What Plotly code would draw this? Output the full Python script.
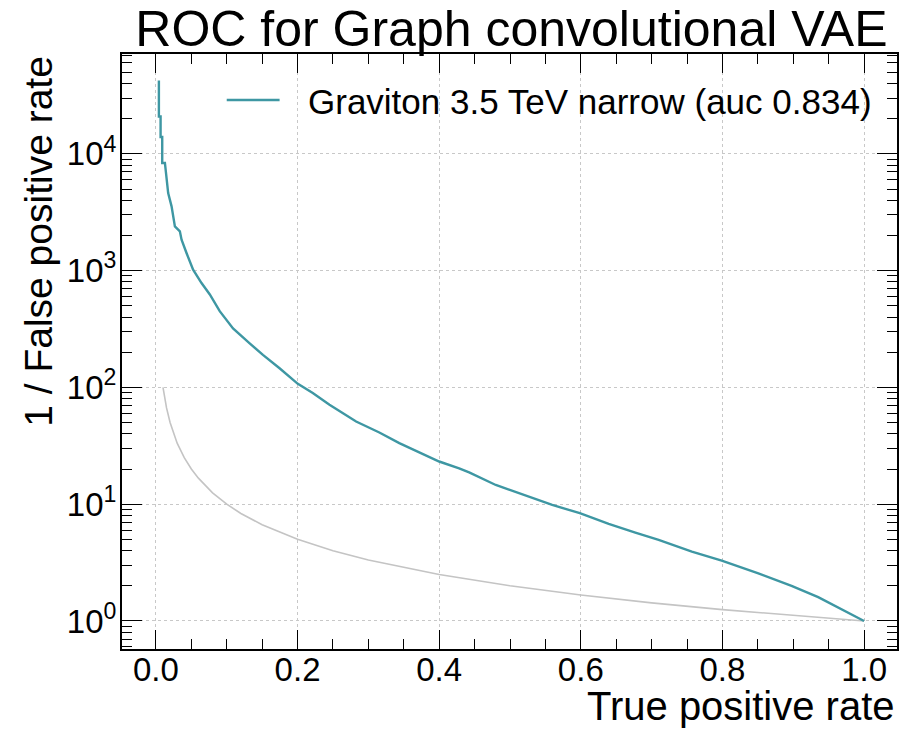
import plotly.graph_objects as go

# ROC curve
tpr = [0.0042, 0.0042, 0.0066, 0.0066, 0.0089, 0.0089, 0.0127, 0.0173, 0.0221, 0.0268,
       0.0338, 0.0362, 0.0432, 0.0525, 0.0644, 0.0761, 0.0901, 0.1089, 0.1324, 0.1511,
       0.1746, 0.2004, 0.2215, 0.2451, 0.2827, 0.3155, 0.3437, 0.3718, 0.4, 0.4282,
       0.4423, 0.4799, 0.5173, 0.5596, 0.5986, 0.6394, 0.677, 0.7099, 0.7568, 0.799,
       0.8507, 0.8976, 0.9352, 0.9634, 0.9822, 1.0]
inv_fpr = [42400, 20900, 20900, 13960, 13960, 8360, 8360, 4620, 3550, 2390,
           2170, 1840, 1415, 1018, 783, 625, 450, 320, 238, 190,
           146, 107.4, 89.4, 71.0, 51.0, 41.1, 33.3, 27.7, 23.2, 20.3,
           18.7, 14.6, 12.2, 9.86, 8.37, 6.78, 5.71, 4.94, 3.93, 3.29,
           2.56, 2.00, 1.60, 1.31, 1.15, 1.0]

# random-guess reference line
rand_tpr = [0.01, 0.012, 0.015, 0.02, 0.025, 0.03, 0.04, 0.05, 0.06, 0.07, 0.08, 0.1,
            0.12, 0.15, 0.2, 0.25, 0.3, 0.4, 0.5, 0.6, 0.7, 0.8, 0.9, 1.0]
rand_inv_fpr = [100, 83.3, 66.7, 50, 40, 33.3, 25, 20, 16.7, 14.3, 12.5, 10,
                8.33, 6.67, 5, 4, 3.33, 2.5, 2, 1.67, 1.43, 1.25, 1.11, 1.0]

x_ticks = [0.0, 0.2, 0.4, 0.6, 0.8, 1.0]
x_tick_labels = ["0.0", "0.2", "0.4", "0.6", "0.8", "1.0"]
y_ticks = [1, 10, 100, 1000, 10000]
y_tick_labels = ["10<sup>0</sup>", "10<sup>1</sup>", "10<sup>2</sup>", "10<sup>3</sup>", "10<sup>4</sup>"]

title = "ROC for Graph convolutional VAE"
series_name = "Graviton 3.5 TeV narrow (auc 0.834)"
x_label = "True positive rate"
y_label = "1 / False positive rate"

FONT = "Liberation Sans, Arial, Helvetica, sans-serif"
TEAL = "#3e97a3"

fig = go.Figure()
fig.add_trace(go.Scatter(x=rand_tpr, y=rand_inv_fpr, mode="lines",
                         line=dict(color="#c4c4c4", width=1.6),
                         showlegend=False, hoverinfo="skip"))
fig.add_trace(go.Scatter(x=tpr, y=inv_fpr, mode="lines", name=series_name,
                         line=dict(color=TEAL, width=2.4), showlegend=False))

minor_y = [m * 10 ** k for k in range(-1, 5) for m in range(2, 10)]

axis_common = dict(
    showline=True, linecolor="black", linewidth=2, mirror="allticks",
    ticks="inside", tickcolor="black", tickwidth=1.3,
    showgrid=True, gridcolor="#c8c8c8", griddash="dot", gridwidth=1,
    zeroline=False,
    tickfont=dict(family=FONT, size=33, color="black"),
)

fig.update_xaxes(
    range=[-0.0479, 1.0465], tickvals=x_ticks, ticktext=x_tick_labels, ticklen=19,
    ticklabelstandoff=-10,
    minor=dict(dtick=0.05, tick0=0, ticks="inside", ticklen=10, tickcolor="black",
               tickwidth=1.1, showgrid=False),
    **axis_common,
)
fig.update_yaxes(
    type="log", range=[-0.24, 4.855], tickvals=y_ticks, ticktext=y_tick_labels, ticklen=20,
    ticklabelstandoff=-3,
    minor=dict(tickvals=minor_y, ticks="inside", ticklen=10, tickcolor="black",
               tickwidth=1.1, showgrid=False),
    **axis_common,
)

# legend drawn as a swatch line plus its label (positions in paper fractions)
PLOT_L, PLOT_W, PLOT_B, PLOT_H = 122, 777, 82, 595
def px_x(p):
    return (p - PLOT_L) / PLOT_W
def px_y(p):
    return (731 - PLOT_B - p) / PLOT_H

fig.add_shape(type="line", xref="paper", yref="paper",
              x0=px_x(227), x1=px_x(280), y0=px_y(100), y1=px_y(100),
              line=dict(color=TEAL, width=2.4))

fig.update_layout(
    width=902, height=731,
    margin=dict(l=122, r=3, t=54, b=82),
    paper_bgcolor="white", plot_bgcolor="white",
    font=dict(family=FONT, color="black"),
    title=dict(text=title, x=0.567, xanchor="center", y=0.985, yanchor="top",
               font=dict(family=FONT, size=50, color="black")),
    showlegend=False,
    annotations=[
        dict(text=series_name, xref="paper", yref="paper", x=px_x(306), y=px_y(101),
             xanchor="left", yanchor="middle", showarrow=False,
             font=dict(family=FONT, size=35, color="black")),
        dict(text=x_label, xref="paper", yref="paper", x=1.0, y=-0.0563,
             xanchor="right", yanchor="top", showarrow=False,
             font=dict(family=FONT, size=40, color="black")),
        dict(text=y_label, xref="paper", yref="paper", x=-0.108, y=1.0,
             xanchor="center", yanchor="top", textangle=-90, showarrow=False,
             font=dict(family=FONT, size=39, color="black")),
    ],
)

fig.write_html("out.html", config={"displayModeBar": False},
               post_script="document.body.style.margin='0px';document.body.style.overflow='hidden';")
